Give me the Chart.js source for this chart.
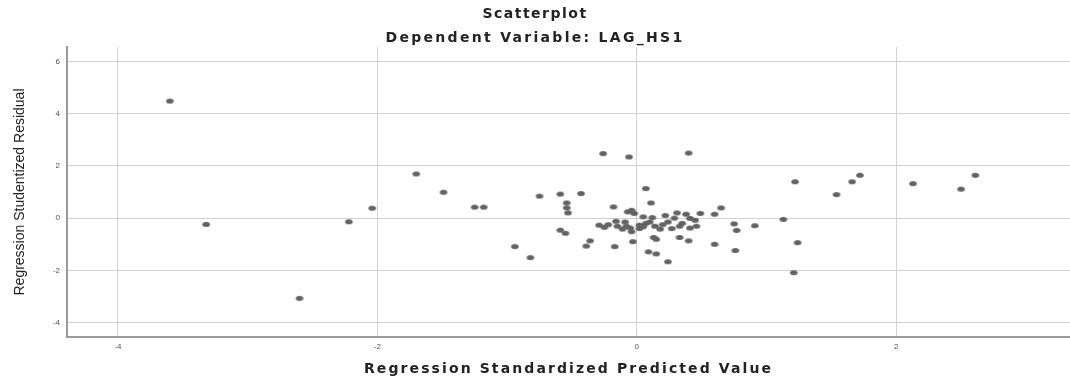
<!DOCTYPE html>
<html>
<head>
<meta charset="utf-8">
<script src="https://cdn.jsdelivr.net/npm/chart.js@4/dist/chart.umd.min.js"></script>
<style>
  body { margin: 0; background: #fff; }
  canvas { display: block; }
</style>
</head>
<body>
<canvas id="scatter" width="1070" height="378"></canvas>
<script>
// ========================
// Data
// ========================
const titleText = 'Scatterplot';
const subtitleText = 'Dependent Variable: LAG_HS1';
const xTitleText = 'Regression Standardized Predicted Value';
const yTitleText = 'Regression Studentized Residual';

const xTicks = [-4, -2, 0, 2];
const yTicks = [-4, -2, 0, 2, 4, 6];

const predicted = [
    -3.60, -3.32, -2.60, -2.22, -2.04, -1.70, -1.49, -1.25, -1.18, -0.94,
    -0.82, -0.75, -0.59, -0.43, -0.54, -0.54, -0.53, -0.59, -0.55, -0.36,
    -0.39, -0.26, -0.06, 0.40, 0.07, 0.11, -0.18, -0.07, -0.02, -0.04,
    -0.17, -0.03, 0.09, 0.15, 0.24, 0.13, 0.15, 0.33, 0.40, 0.60,
    0.76, 0.31, 0.49, 0.60, 0.65, 0.41, 0.46, 0.75, 0.77, 0.91,
    1.13, 1.22, 1.54, 1.66, 1.72, 2.13, 2.50, 2.61, 1.24, 1.21,
    -0.29, -0.22, -0.15, -0.09, -0.05, 0.02, 0.10, 0.14, 0.18, 0.24,
    0.29, 0.33, 0.38, 0.41, 0.45, -0.16, -0.08, -0.04, 0.02, 0.07,
    0.05, -0.11, 0.20, 0.27, 0.12, 0.22, 0.35, -0.25, 0.05
];

const residual = [
    4.48, -0.24, -3.07, -0.14, 0.38, 1.69, 0.99, 0.42, 0.42, -1.09,
    -1.51, 0.84, 0.92, 0.94, 0.58, 0.39, 0.20, -0.46, -0.58, -0.87,
    -1.07, 2.47, 2.34, 2.49, 1.13, 0.58, 0.43, 0.24, 0.18, 0.30,
    -1.09, -0.90, -1.29, -1.37, -1.67, -0.74, -0.81, -0.74, -0.87, -1.00,
    -1.24, 0.20, 0.18, 0.15, 0.39, -0.01, -0.31, -0.22, -0.47, -0.29,
    -0.05, 1.39, 0.90, 1.39, 1.64, 1.32, 1.11, 1.64, -0.94, -2.09,
    -0.27, -0.25, -0.31, -0.15, -0.38, -0.27, -0.15, -0.31, -0.42, -0.15,
    0.00, -0.31, 0.15, -0.38, -0.08, -0.12, -0.31, -0.52, -0.40, -0.20,
    0.05, -0.42, -0.25, -0.40, 0.02, 0.10, -0.20, -0.35, -0.33
];

const points = predicted.map((x, i) => ({ x: x, y: residual[i] }));

// ========================
// Marker: small grey ellipse like SPSS
// ========================
function makeDot() {
    const c = document.createElement('canvas');
    c.width = 10;
    c.height = 7;
    const g = c.getContext('2d');
    g.fillStyle = '#626262';
    g.beginPath();
    g.ellipse(5, 3.5, 3.8, 2.5, 0, 0, Math.PI * 2);
    g.fill();
    return c;
}

// ========================
// Titles drawn with letter spacing (SPSS output is wide)
// ========================
const spssTitles = {
    id: 'spssTitles',
    afterDraw(chart) {
        const { ctx, chartArea } = chart;
        ctx.save();
        ctx.fillStyle = '#222';
        ctx.textAlign = 'center';
        ctx.textBaseline = 'middle';

        ctx.font = 'bold 14px "DejaVu Sans", sans-serif';
        ctx.letterSpacing = '1.5px';
        ctx.fillText(titleText, chart.width / 2, 14);
        ctx.letterSpacing = '2.3px';
        ctx.fillText(subtitleText, chart.width / 2, 38);

        ctx.letterSpacing = '2.1px';
        ctx.fillText(xTitleText, (chartArea.left + chartArea.right) / 2, 369);
        ctx.restore();
    }
};

const tickFont = { family: '"Liberation Sans", Arial, sans-serif', size: 8 };

new Chart(document.getElementById('scatter'), {
    type: 'scatter',
    data: {
        datasets: [{
            data: points,
            pointStyle: makeDot(),
            pointRadius: 4,
            pointHoverRadius: 4
        }]
    },
    options: {
        responsive: false,
        animation: false,
        devicePixelRatio: 1,
        layout: { autoPadding: false, padding: { top: 47, right: 0, left: 0, bottom: 0 } },
        plugins: {
            legend: { display: false },
            tooltip: { enabled: false }
        },
        scales: {
            x: {
                type: 'linear',
                min: -4.393,
                max: 3.34,
                afterBuildTicks: s => { s.ticks = xTicks.map(v => ({ value: v })); },
                afterFit: s => { s.height = 41; },
                ticks: { font: tickFont, color: '#555', padding: 5 },
                grid: { color: '#d2d2d2', lineWidth: 1, drawTicks: false },
                border: { color: '#9a9a9a', width: 2 }
            },
            y: {
                type: 'linear',
                min: -4.55,
                max: 6.55,
                afterBuildTicks: s => { s.ticks = yTicks.map(v => ({ value: v })); },
                afterFit: s => { s.width = 67; },
                ticks: { font: tickFont, color: '#555', padding: 7 },
                grid: { color: '#d2d2d2', lineWidth: 1, drawTicks: false },
                border: { color: '#9a9a9a', width: 2 },
                title: {
                    display: true,
                    text: yTitleText,
                    color: '#222',
                    font: { family: '"Liberation Sans", Arial, sans-serif', size: 14 },
                    padding: { top: 12, bottom: 0 }
                }
            }
        }
    },
    plugins: [spssTitles]
});
</script>
</body>
</html>
